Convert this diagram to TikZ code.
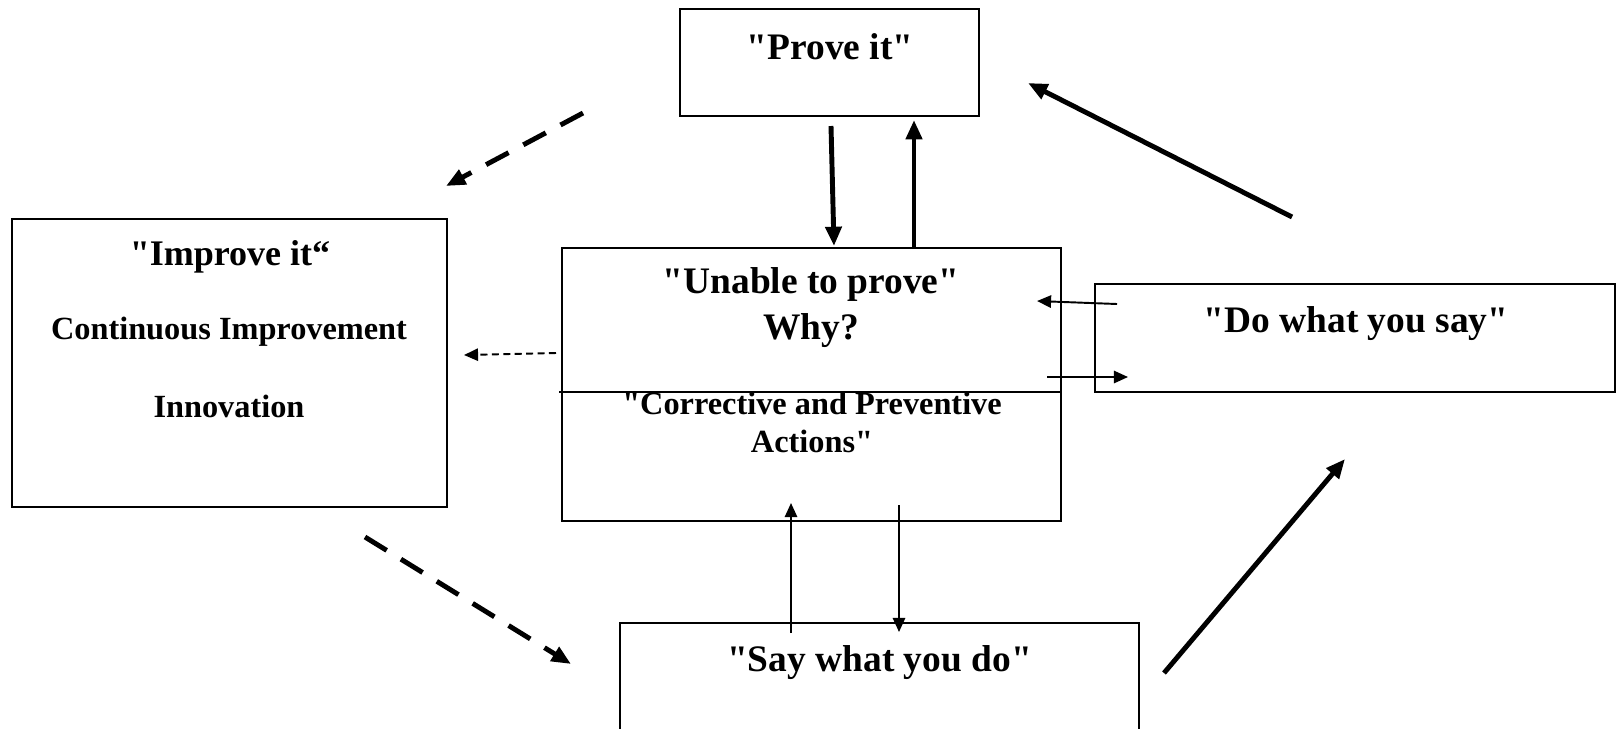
\documentclass[tikz,border=0pt]{standalone}
\usepackage{fontspec}
\setmainfont{Liberation Serif}
% plain fonts, so that " stays a straight quote
\font\headfont="Liberation Serif/B" at 21.3pt
\font\improvefont="Liberation Serif/B" at 20.5pt
\font\bodyfont="Liberation Serif/B" at 18.4pt
\usetikzlibrary{arrows.meta}

\tikzset{
    box/.style={draw, line width=1.1pt, inner sep=0pt},
    headtext/.style={anchor=base, font=\headfont},
    bodytext/.style={anchor=base, font=\bodyfont},
    bigarrow/.style={line width=2.8pt, -{Triangle[length=11pt,width=9pt]}},
    smallarrow/.style={line width=1.1pt, -{Triangle[length=8pt,width=7pt]}},
    bigdash/.style={bigarrow, dash pattern=on 14.5pt off 9.5pt},
    smalldash/.style={smallarrow, dash pattern=on 4pt off 2.5pt},
}

\begin{document}
\begin{tikzpicture}[x=0.02cm, y=-0.02cm]
    \useasboundingbox (0,0) rectangle (1618,728);

    % Prove it box
    \node[box, minimum width=5.98cm, minimum height=2.14cm] (prove) at (829.5,62.5) {};
    \node[headtext] (provetxt) at (830,59) {"Prove it"};

    % Improve it box
    \node[box, minimum width=8.7cm, minimum height=5.76cm] (improve) at (229.5,363) {};
    \node[headtext, font=\improvefont] (improvetxt) at (230,265) {"Improve it“};
    \node[bodytext] (contimp) at (229,339) {Continuous Improvement};
    \node[bodytext] (innov) at (229,417) {Innovation};

    % Unable to prove box, split in two
    \node[box, minimum width=9.98cm, minimum height=5.46cm] (unable) at (811.5,384.5) {};
    \coordinate (divleft) at (559,392);
    \draw[line width=1.1pt] (divleft) -- (unable.east |- divleft);
    \node[headtext] (unabletxt) at (811,293) {"Unable to prove"};
    \node[headtext] (whytxt) at (811,339) {Why?};
    \node[bodytext] (capatxt) at (812,414) {"Corrective and Preventive};
    \node[bodytext] (actionstxt) at (812,452) {Actions"};

    % Do what you say box
    \node[box, minimum width=10.4cm, minimum height=2.16cm] (dobox) at (1355,338) {};
    \node[headtext] (dotxt) at (1356,332) {"Do what you say"};

    % Say what you do box (runs off the bottom)
    \node[box, minimum width=10.38cm, minimum height=3.14cm] (saybox) at (879.5,701.5) {};
    \node[headtext] (saytxt) at (879.5,671) {"Say what you do"};

    % arrow ends
    \coordinate (provedown) at (831,126);
    \coordinate (unabletop) at (834,246);
    \coordinate (unableup) at (914,248);
    \coordinate (provebottom) at (914,120);
    \coordinate (dostart) at (1292,217);
    \coordinate (proveright) at (1028,83);
    \coordinate (saystart) at (1164,673);
    \coordinate (dobelow) at (1345,459);
    \coordinate (proveleft) at (583,113);
    \coordinate (improvetop) at (446,186);
    \coordinate (improvebelow) at (365,537);
    \coordinate (sayleft) at (571,664);
    \coordinate (unableleft) at (556,353);
    \coordinate (improveright) at (464,355);
    \coordinate (doleft) at (1117,304);
    \coordinate (unableright) at (1037,301);
    \coordinate (unablelow) at (1047,377);
    \coordinate (doin) at (1128,377);
    \coordinate (sayup) at (791,633);
    \coordinate (unablebottom) at (791,503);
    \coordinate (unabledown) at (899,505);
    \coordinate (saytop) at (899,632);

    % thick arrows
    \draw[bigarrow] (provedown) -- (unabletop);
    \draw[bigarrow] (unableup) -- (provebottom);
    \draw[bigarrow] (dostart) -- (proveright);
    \draw[bigarrow] (saystart) -- (dobelow);

    % thick dashed arrows
    \draw[bigdash] (proveleft) -- (improvetop);
    \draw[bigdash] (improvebelow) -- (sayleft);

    % thin arrows
    \draw[smalldash] (unableleft) -- (improveright);
    \draw[smallarrow] (doleft) -- (unableright);
    \draw[smallarrow] (unablelow) -- (doin);
    \draw[smallarrow] (sayup) -- (unablebottom);
    \draw[smallarrow] (unabledown) -- (saytop);
\end{tikzpicture}
\end{document}
